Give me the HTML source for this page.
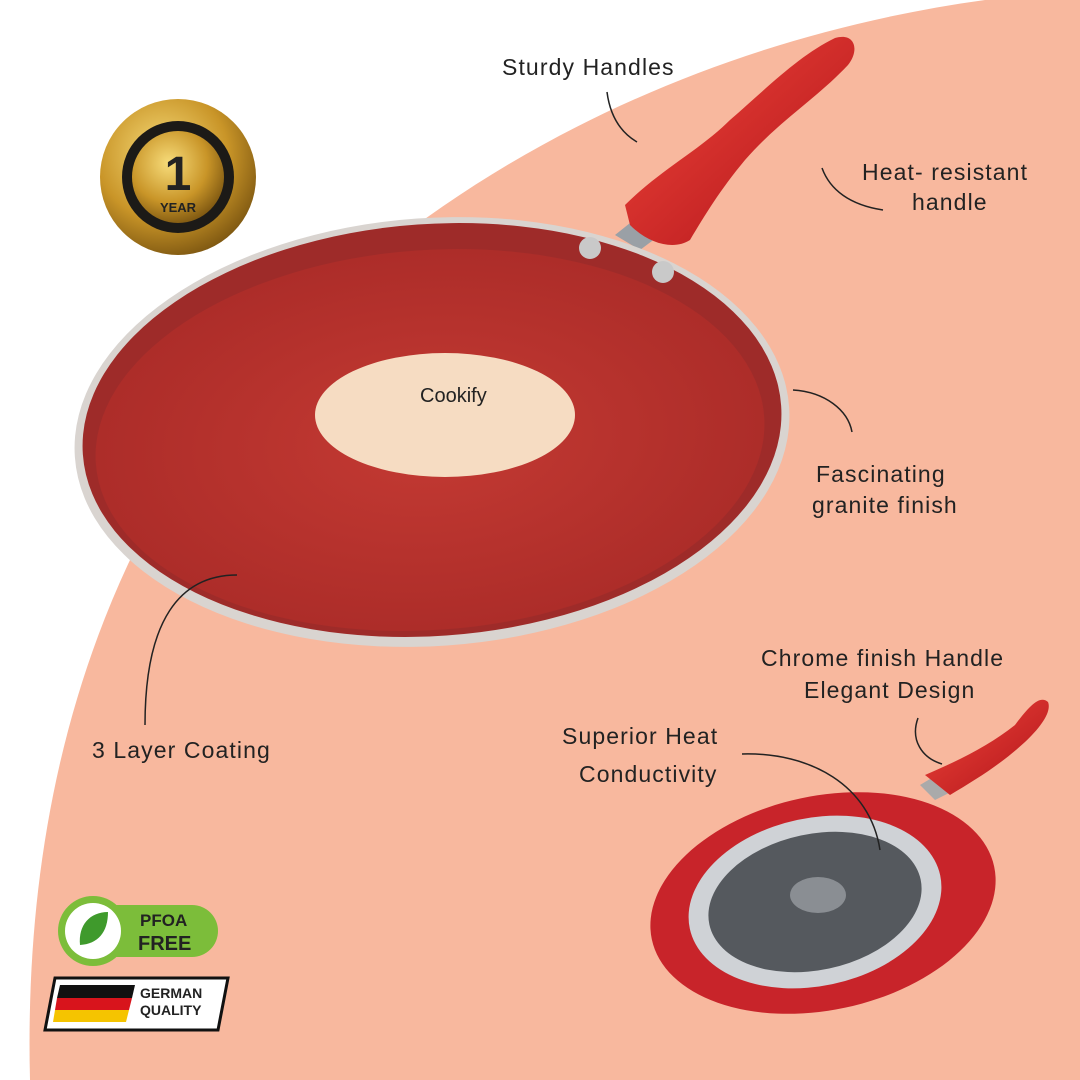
<!DOCTYPE html>
<html><head><meta charset="utf-8"><style>
html,body{margin:0;padding:0;width:1080px;height:1080px;overflow:hidden;background:#fff}
svg{display:block}
text{font-family:"Liberation Sans",sans-serif;fill:#222}
.lb{font-size:23px;letter-spacing:1.1px}
</style></head><body>
<svg width="1080" height="1080" viewBox="0 0 1080 1080">
<defs>
<radialGradient id="gold" cx="40%" cy="35%" r="70%"><stop offset="0" stop-color="#f7dc7a"/><stop offset="0.6" stop-color="#c99528"/><stop offset="1" stop-color="#7a5410"/></radialGradient>
<linearGradient id="hand" x1="0" y1="0" x2="1" y2="1"><stop offset="0" stop-color="#f0453a"/><stop offset="1" stop-color="#b0141a"/></linearGradient>
<radialGradient id="panin" cx="50%" cy="50%" r="60%"><stop offset="0" stop-color="#c43a33"/><stop offset="1" stop-color="#a82a27"/></radialGradient>
</defs>
<path d="M985,0 C620,50 300,250 150,520 C60,690 25,880 30,1080 L1080,1080 L1080,0 Z" fill="#f8b89e"/>

<path d="M615,235 L640,215 L660,235 L640,250 Z" fill="#9aa0a6"/>
<path d="M625,205 C660,170 700,150 730,120 C770,85 800,55 835,38 C855,32 860,50 848,65 C815,100 780,120 745,160 C720,190 705,215 690,240 C675,250 650,245 630,225 Z" fill="url(#hand)"/>
<ellipse cx="432" cy="432" rx="358" ry="214" transform="rotate(-4 432 432)" fill="#d9d4d0"/>
<ellipse cx="432" cy="430" rx="350" ry="206" transform="rotate(-4 432 430)" fill="#9e2b29"/>
<ellipse cx="430" cy="440" rx="335" ry="190" transform="rotate(-4 430 440)" fill="url(#panin)"/>
<circle cx="590" cy="248" r="11" fill="#c9c9c9"/>
<circle cx="663" cy="272" r="11" fill="#c9c9c9"/>
<ellipse cx="445" cy="415" rx="130" ry="62" fill="#f6dcc2"/>
<text x="420" y="402" font-size="20" fill="#333">Cookify</text>

<path d="M920,785 L945,770 L955,790 L935,800 Z" fill="#aaa"/>
<path d="M925,775 C960,760 990,745 1015,725 C1030,705 1040,695 1048,702 C1052,712 1040,728 1025,742 C1000,765 975,780 950,795 Z" fill="url(#hand)"/>
<ellipse cx="823" cy="903" rx="175" ry="107" transform="rotate(-12 823 903)" fill="#c8242a"/>
<ellipse cx="815" cy="902" rx="128" ry="84" transform="rotate(-12 815 902)" fill="#cfd2d6"/>
<ellipse cx="815" cy="902" rx="108" ry="68" transform="rotate(-12 815 902)" fill="#55595e"/>
<ellipse cx="818" cy="895" rx="28" ry="18" fill="#8a8e93"/>

<g fill="none" stroke="#222" stroke-width="1.5">
<path d="M607,92 C610,115 620,132 637,142"/>
<path d="M822,168 C830,190 850,205 883,210"/>
<path d="M793,390 C825,392 848,410 852,432"/>
<path d="M237,575 C180,575 145,620 145,725"/>
<path d="M742,754 C810,752 870,785 880,850"/>
<path d="M918,718 C910,740 922,758 942,764"/>
</g>

<g class="lb">
<text class="lb" x="502" y="75">Sturdy Handles</text>
<text class="lb" x="862" y="180">Heat- resistant</text>
<text class="lb" x="912" y="210">handle</text>
<text class="lb" x="816" y="482">Fascinating</text>
<text class="lb" x="812" y="513">granite finish</text>
<text class="lb" x="92" y="758">3 Layer Coating</text>
<text class="lb" x="761" y="666">Chrome finish Handle</text>
<text class="lb" x="804" y="698">Elegant Design</text>
<text class="lb" x="562" y="744">Superior Heat</text>
<text class="lb" x="579" y="782">Conductivity</text>
</g>

<circle cx="178" cy="177" r="78" fill="url(#gold)"/>
<circle cx="178" cy="177" r="56" fill="#1c1a17"/>
<circle cx="178" cy="177" r="46" fill="url(#gold)"/>
<text x="178" y="190" font-size="48" font-weight="bold" text-anchor="middle" fill="#111">1</text>
<text x="178" y="212" font-size="13" font-weight="bold" text-anchor="middle" fill="#111">YEAR</text>

<rect x="90" y="905" width="128" height="52" rx="26" fill="#7cbd3a"/>
<circle cx="93" cy="931" r="35" fill="#7cbd3a"/>
<circle cx="93" cy="931" r="28" fill="#fff"/>
<path d="M80,945 C78,925 90,912 108,912 C108,932 98,944 80,945 Z" fill="#3f9a2c"/>
<text x="140" y="926" font-size="17" font-weight="bold" fill="#fff">PFOA</text>
<text x="138" y="950" font-size="20" font-weight="bold" fill="#fff">FREE</text>

<path d="M55,978 L228,978 L218,1030 L45,1030 Z" fill="#fff" stroke="#111" stroke-width="3"/>
<path d="M60,985 L135,985 L132,998 L57,998 Z" fill="#111"/>
<path d="M57,998 L132,998 L129,1010 L55,1010 Z" fill="#d8141c"/>
<path d="M55,1010 L129,1010 L126,1022 L53,1022 Z" fill="#f5c400"/>
<text x="140" y="998" font-size="14" font-weight="bold" fill="#111">GERMAN</text>
<text x="140" y="1015" font-size="14" font-weight="bold" fill="#111">QUALITY</text>
</svg>
</body></html>
